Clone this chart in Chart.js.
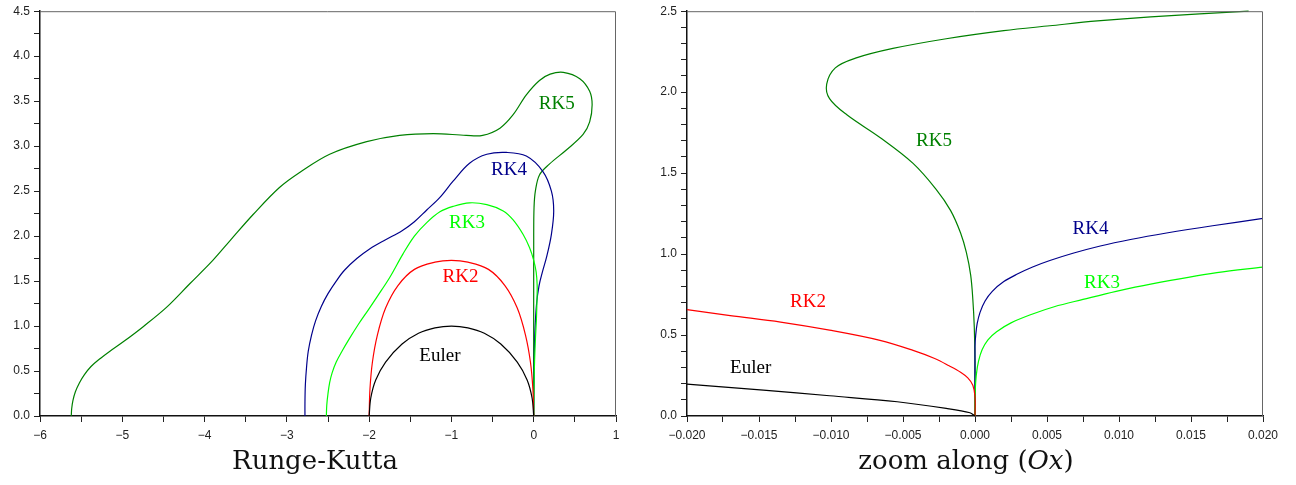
<!DOCTYPE html>
<html>
<head>
<meta charset="utf-8">
<script src="https://cdn.jsdelivr.net/npm/chart.js@4/dist/chart.umd.min.js"></script>
<style>
  html, body { margin: 0; padding: 0; background: #fff; }
  #wrap { position: relative; width: 1296px; height: 485px; overflow: hidden; }
  canvas { position: absolute; top: 0; }
  .ttl { position: absolute; top: 445px; font-family: "DejaVu Serif", serif; font-size: 26px; color: #111; white-space: nowrap; transform: translateX(-50%); }
  .ttl i { font-style: italic; }
</style>
</head>
<body>
<div id="wrap">
  <canvas id="left" width="640" height="485" style="left:0;width:640px;height:485px"></canvas>
  <canvas id="right" width="648" height="485" style="left:648px;width:648px;height:485px"></canvas>
  <div class="ttl" style="left:315px">Runge-Kutta</div>
  <div class="ttl" style="left:966px">zoom along (<i>Ox</i>)</div>
</div>
<script>
// curve names and colours
const methods = ["Euler", "RK2", "RK3", "RK4", "RK5"];
const colors = ["#000000", "#ff0000", "#00ff00", "#00008b", "#008000"];

// left panel: full stability boundaries, [x, y]
const eulerFull = [[-2,0],[-1.98,0.2],[-1.92,0.4],[-1.8,0.6],[-1.6,0.8],[-1.4,0.92],[-1.2,0.98],[-1,1],[-0.8,0.98],[-0.6,0.92],[-0.4,0.8],[-0.2,0.6],[-0.08,0.4],[-0.02,0.2],[0,0]];
const rk2Full = [[-2,0],[-1.99,0.3],[-1.96,0.6],[-1.9,0.9],[-1.8,1.2],[-1.65,1.45],[-1.45,1.63],[-1.2,1.71],[-1,1.73],[-0.8,1.71],[-0.55,1.63],[-0.35,1.45],[-0.2,1.2],[-0.1,0.9],[-0.04,0.6],[-0.01,0.3],[0,0]];
const rk3Full = [[-2.52,0],[-2.515,0.12],[-2.5,0.25],[-2.48,0.37],[-2.45,0.48],[-2.4,0.6],[-2.33,0.72],[-2.24,0.86],[-2.13,1.02],[-2.01,1.18],[-1.9,1.33],[-1.75,1.54],[-1.59,1.8],[-1.45,2],[-1.3,2.15],[-1.14,2.27],[-0.98,2.33],[-0.78,2.37],[-0.57,2.35],[-0.37,2.28],[-0.25,2.18],[-0.13,2.02],[-0.05,1.87],[0,1.73],[0.03,1.6],[0.042,1.45],[0.04,1.3],[0.033,1.08],[0.018,0.8],[0.006,0.45],[0,0]];
const rk4Full = [[-2.78,0],[-2.78,0.15],[-2.775,0.35],[-2.76,0.55],[-2.74,0.72],[-2.7,0.9],[-2.65,1.06],[-2.58,1.22],[-2.5,1.36],[-2.4,1.5],[-2.3,1.62],[-2.15,1.75],[-1.99,1.86],[-1.8,1.96],[-1.6,2.06],[-1.45,2.16],[-1.3,2.29],[-1.14,2.43],[-0.98,2.61],[-0.78,2.81],[-0.57,2.91],[-0.33,2.93],[-0.09,2.89],[0.11,2.72],[0.215,2.5],[0.243,2.28],[0.215,2.02],[0.16,1.78],[0.105,1.6],[0.065,1.45],[0.035,1.25],[0.014,0.92],[0.004,0.5],[0,0]];
const rk5Full = [[-5.62,0],[-5.615,0.08],[-5.6,0.17],[-5.57,0.27],[-5.52,0.37],[-5.46,0.46],[-5.38,0.55],[-5.28,0.63],[-5.15,0.72],[-4.98,0.83],[-4.75,0.99],[-4.46,1.21],[-4.18,1.47],[-3.9,1.73],[-3.69,1.95],[-3.41,2.24],[-3.09,2.54],[-2.84,2.71],[-2.48,2.91],[-2.03,3.05],[-1.63,3.12],[-1.22,3.14],[-0.82,3.12],[-0.62,3.12],[-0.41,3.2],[-0.25,3.35],[-0.09,3.57],[0.07,3.73],[0.2,3.8],[0.36,3.82],[0.56,3.75],[0.68,3.61],[0.71,3.46],[0.68,3.27],[0.6,3.13],[0.4,2.96],[0.19,2.8],[0.07,2.68],[0.02,2.5],[0.004,2.32],[0,2],[0,0]];

// right panel: zoom near the origin
const eulerZoom = [[-0.02,0.197],[-0.0147,0.16],[-0.0101,0.125],[-0.0054,0.088],[-0.002,0.047],[-0.00035,0.02],[0,0]];
const rk2Zoom = [[-0.02,0.657],[-0.017,0.62],[-0.0135,0.58],[-0.0101,0.53],[-0.0066,0.467],[-0.0043,0.405],[-0.0028,0.355],[-0.0018,0.31],[-0.001,0.27],[-0.0005,0.235],[-0.00015,0.19],[0,0.12],[0,0]];
const rk3Zoom = [[0,0],[0,0.1],[0.00003,0.18],[0.0001,0.26],[0.00025,0.34],[0.0005,0.41],[0.0009,0.47],[0.0015,0.52],[0.0025,0.575],[0.004,0.63],[0.0055,0.675],[0.0075,0.72],[0.0098,0.77],[0.0122,0.815],[0.0168,0.886],[0.02,0.92]];
const rk4Zoom = [[0,0],[0,0.43],[0.00005,0.5],[0.00015,0.57],[0.00035,0.64],[0.0007,0.71],[0.0012,0.77],[0.002,0.83],[0.0029,0.875],[0.004,0.92],[0.0052,0.96],[0.0068,1.005],[0.0087,1.05],[0.0108,1.09],[0.0133,1.13],[0.0165,1.175],[0.02,1.22]];
const rk5Zoom = [[0,0],[0,0.33],[-0.00005,0.55],[-0.00015,0.72],[-0.0003,0.87],[-0.0006,1.01],[-0.001,1.13],[-0.0017,1.27],[-0.0027,1.40],[-0.0043,1.56],[-0.0066,1.72],[-0.0089,1.86],[-0.0101,1.96],[-0.0103,2.05],[-0.0097,2.15],[-0.0083,2.21],[-0.0057,2.27],[-0.002,2.33],[0.002,2.38],[0.0052,2.41],[0.0085,2.44],[0.0122,2.465],[0.019,2.5]];

// where each curve name sits, in data units
const labelsFull = [[-1.14,0.67],[-0.89,1.55],[-0.81,2.15],[-0.30,2.73],[0.28,3.47]];
const labelsZoom = [[-0.01558,0.295],[-0.0116,0.707],[0.00882,0.82],[0.00802,1.155],[-0.00285,1.70]];

const minus = (s) => s.replace("-", "\u2212");

const frameAndLabels = {
  id: "frameAndLabels",
  afterDatasetsDraw(chart, args, opts) {
    const { ctx, chartArea: a, scales } = chart;
    ctx.save();
    ctx.strokeStyle = "#666";
    ctx.lineWidth = 1;
    ctx.beginPath();
    ctx.moveTo(a.left, a.top + 0.5);
    ctx.lineTo(a.right - 0.5, a.top + 0.5);
    ctx.lineTo(a.right - 0.5, a.bottom);
    ctx.stroke();
    ctx.font = "19px 'Liberation Serif', serif";
    ctx.textAlign = "center";
    ctx.textBaseline = "middle";
    opts.spots.forEach((p, i) => {
      ctx.fillStyle = colors[i];
      ctx.fillText(methods[i], scales.x.getPixelForValue(p[0]), scales.y.getPixelForValue(p[1]));
    });
    ctx.restore();
  },
};

function makeChart(id, series, spots, xr, yr, yWidth, padRight) {
  const tickFont = { family: "'Liberation Sans', sans-serif", size: 12 };
  const axisCommon = {
    border: { color: "#111", width: 1.5 },
    grid: { drawOnChartArea: false, drawTicks: true, tickLength: 6, color: "#222", lineWidth: 1 },
  };
  const isMult = (v, m) => Math.abs(v / m - Math.round(v / m)) < 1e-6;
  return new Chart(document.getElementById(id), {
    type: "scatter",
    data: {
      datasets: series.map((pts, i) => ({
        label: methods[i],
        data: pts.map(([x, y]) => ({ x, y })),
        showLine: true,
        borderColor: colors[i],
        borderWidth: 1.2,
        pointRadius: 0,
        tension: 0.35,
        clip: 2,
      })),
    },
    options: {
      responsive: false,
      animation: false,
      events: [],
      layout: { padding: { top: 9, right: padRight, left: 0, bottom: 0 } },
      plugins: { legend: { display: false }, tooltip: { enabled: false }, frameAndLabels: { spots } },
      scales: {
        x: {
          ...axisCommon,
          min: xr.min, max: xr.max,
          afterFit: (s) => { s.height = 69; },
          afterBuildTicks: (s) => {
            const t = [];
            const n = Math.round((xr.max - xr.min) / xr.step);
            for (let k = 0; k <= n; k++) t.push({ value: xr.min + k * xr.step });
            s.ticks = t;
          },
          ticks: {
            font: tickFont, color: "#222", padding: 6, maxRotation: 0, autoSkip: false,
            callback: (v) => isMult(v, xr.label) ? minus((Math.abs(v) < 1e-12 ? 0 : v).toFixed(xr.dec)) : "",
          },
        },
        y: {
          ...axisCommon,
          min: yr.min, max: yr.max,
          afterFit: (s) => { s.width = yWidth; },
          afterBuildTicks: (s) => {
            const t = [];
            const n = Math.round((yr.max - yr.min) / yr.step);
            for (let k = 0; k <= n; k++) t.push({ value: yr.min + k * yr.step });
            s.ticks = t;
          },
          ticks: {
            font: tickFont, color: "#222", padding: 4, autoSkip: false,
            callback: (v) => isMult(v, yr.label) ? v.toFixed(1) : "",
          },
        },
      },
    },
    plugins: [frameAndLabels],
  });
}

makeChart("left", [eulerFull, rk2Full, rk3Full, rk4Full, rk5Full], labelsFull,
  { min: -6, max: 1, step: 0.5, label: 1, dec: 0 },
  { min: 0, max: 4.5, step: 0.25, label: 0.5 }, 40, 24);

makeChart("right", [eulerZoom, rk2Zoom, rk3Zoom, rk4Zoom, rk5Zoom], labelsZoom,
  { min: -0.02, max: 0.02, step: 0.0025, label: 0.005, dec: 3 },
  { min: 0, max: 2.5, step: 0.1, label: 0.5 }, 39, 33);
</script>
</body>
</html>
